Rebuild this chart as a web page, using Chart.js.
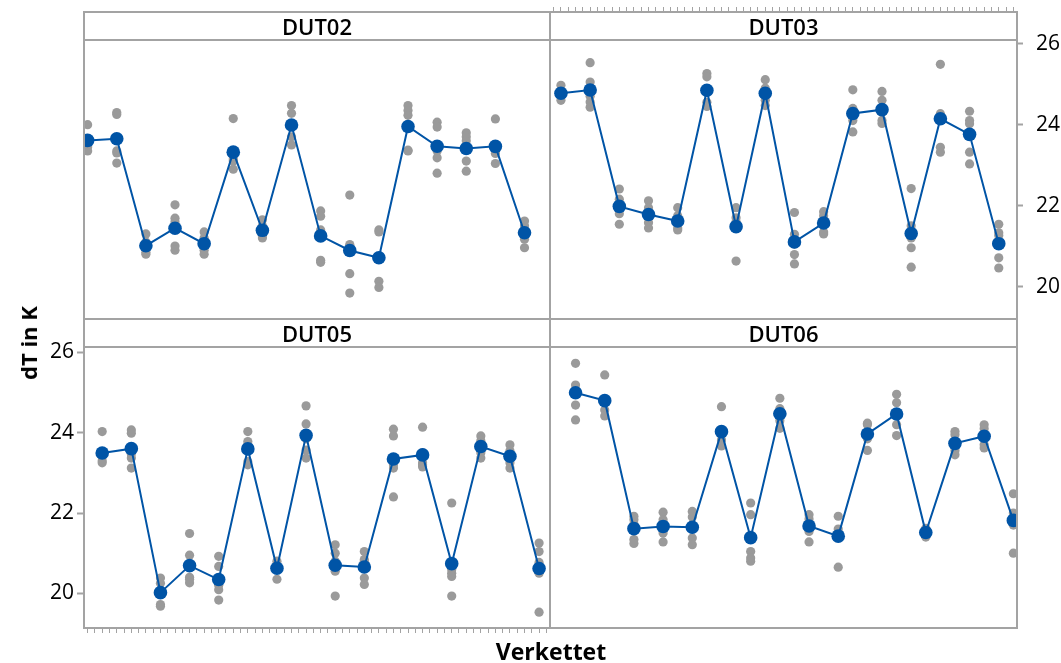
<!DOCTYPE html>
<html><head><meta charset="utf-8">
<script src="https://cdn.jsdelivr.net/npm/chart.js@4.4.1/dist/chart.umd.min.js"></script>
<style>
html,body{margin:0;padding:0;background:#fff;}
#stage{position:relative;width:1061px;height:663px;overflow:hidden;font-family:"Open Sans",sans-serif;background:#fff;}
canvas{position:absolute;z-index:1;}
.ln{position:absolute;background:#a3a3a3;z-index:3;}
.strip{position:absolute;height:28px;line-height:28px;text-align:center;font-size:22px;font-weight:600;color:#000;z-index:2;}
.title{position:absolute;font-weight:700;color:#000;z-index:2;white-space:nowrap;}
</style></head>
<body><div id="stage">
<canvas id="c02" width="466" height="279" style="left:84px;top:40px"></canvas>
<canvas id="c03" width="511" height="349" style="left:550px;top:0px"></canvas>
<canvas id="c05" width="550" height="346" style="left:0px;top:317px"></canvas>
<canvas id="c06" width="467" height="281" style="left:550px;top:347px"></canvas>
<div class="strip" style="left:84px;top:12px;width:466px">DUT02</div>
<div class="strip" style="left:550px;top:12px;width:467px">DUT03</div>
<div class="strip" style="left:84px;top:319px;width:466px">DUT05</div>
<div class="strip" style="left:550px;top:319px;width:467px">DUT06</div>
<div class="title" style="font-size:22px;left:28px;top:343px;transform:translate(-50%,-50%) rotate(-90deg)">dT in K</div>
<div class="title" style="font-size:23px;left:551px;top:651px;transform:translate(-50%,-50%)">Verkettet</div>
</div>
<script>
// ---- data ----
const panelNames = ["DUT02", "DUT03", "DUT05", "DUT06"];
const yTickValues = [20, 22, 24, 26];
const concatCategoryCount = 64;

const dut02 = [
  [24.0, 23.65, 23.6, 23.45, 23.35],
  [24.3, 24.25, 23.35, 23.3, 23.05],
  [21.3, 21.1, 21.0, 20.85, 20.8],
  [22.02, 21.69, 21.6, 21.0, 20.9],
  [21.35, 21.2, 21.05, 20.9, 20.8],
  [24.15, 23.3, 23.15, 23.1, 22.9],
  [21.65, 21.5, 21.35, 21.25, 21.2],
  [24.47, 24.28, 24.0, 23.7, 23.5],
  [21.87, 21.74, 21.4, 20.65, 20.6],
  [22.26, 21.04, 21.0, 20.32, 19.84],
  [21.4, 21.35, 20.7, 20.13, 19.98],
  [24.47, 24.35, 24.23, 23.37, 23.35],
  [24.06, 23.94, 23.35, 23.18, 22.8],
  [23.8, 23.7, 23.6, 23.1, 22.85],
  [24.14, 23.5, 23.35, 23.29, 23.04],
  [21.62, 21.5, 21.4, 21.17, 20.96]
];
const dut03 = [
  [24.97, 24.85, 24.75, 24.7, 24.6],
  [25.53, 25.05, 24.7, 24.56, 24.43],
  [22.41, 22.16, 22.0, 21.8, 21.54],
  [22.12, 21.95, 21.8, 21.58, 21.45],
  [21.95, 21.75, 21.55, 21.45, 21.4],
  [25.26, 25.18, 24.8, 24.55, 24.45],
  [21.95, 21.7, 21.6, 21.52, 20.63],
  [25.11, 24.9, 24.8, 24.6, 24.47],
  [21.83, 21.29, 21.05, 20.79, 20.56],
  [21.85, 21.75, 21.6, 21.35, 21.3],
  [24.86, 24.4, 24.2, 24.1, 23.82],
  [24.82, 24.6, 24.3, 24.1, 24.03],
  [22.42, 21.5, 21.2, 20.96, 20.48],
  [25.49, 24.27, 24.2, 23.44, 23.32],
  [24.33, 24.1, 24.02, 23.32, 23.03],
  [21.54, 21.33, 21.26, 20.71, 20.46]
];
const dut05 = [
  [24.03, 23.5, 23.4, 23.3, 23.25],
  [24.07, 23.99, 23.47, 23.37, 23.12],
  [20.38, 20.25, 20.05, 19.72, 19.68],
  [21.49, 20.95, 20.4, 20.35, 20.26],
  [20.92, 20.67, 20.2, 20.09, 19.83],
  [24.03, 23.78, 23.7, 23.28, 23.2],
  [20.8, 20.72, 20.65, 20.6, 20.35],
  [24.67, 24.22, 23.85, 23.57, 23.37],
  [21.21, 21.0, 20.8, 20.55, 19.93],
  [21.04, 20.84, 20.8, 20.38, 20.22],
  [24.09, 23.92, 23.2, 23.12, 22.4],
  [24.14, 23.5, 23.25, 23.2, 23.15],
  [22.25, 20.59, 20.5, 20.42, 19.93],
  [23.92, 23.8, 23.7, 23.5, 23.37],
  [23.7, 23.55, 23.45, 23.25, 23.12],
  [21.25, 21.04, 20.77, 20.5, 19.53]
];
const dut06 = [
  [25.73, 25.19, 25.05, 24.69, 24.32],
  [25.44, 24.8, 24.77, 24.57, 24.42],
  [21.92, 21.83, 21.72, 21.34, 21.24],
  [22.02, 21.83, 21.7, 21.5, 21.28],
  [22.04, 21.9, 21.7, 21.38, 21.21],
  [24.65, 24.05, 23.95, 23.82, 23.67],
  [22.25, 21.96, 21.04, 20.88, 20.8],
  [24.86, 24.6, 24.5, 24.3, 24.11],
  [21.96, 21.85, 21.75, 21.54, 21.28],
  [21.92, 21.6, 21.5, 21.45, 20.65],
  [24.24, 24.2, 24.0, 23.85, 23.56],
  [24.96, 24.75, 24.5, 24.2, 23.93],
  [21.62, 21.58, 21.52, 21.45, 21.4],
  [24.03, 23.95, 23.7, 23.55, 23.45],
  [24.2, 24.1, 23.95, 23.7, 23.62],
  [22.48, 22.0, 21.9, 21.7, 21.0]
];
const panelValues = [dut02, dut03, dut05, dut06];

// ---- styles ----
const FONT = '"Open Sans", sans-serif';
const GRAY_PT = '#9a9a9a';
const BLUE = '#0054a6';
const FRAME = '#a3a3a3';
const rowRanges = [[19.2, 26.09], [19.135, 26.137]];

const mean = a => a.reduce((s, v) => s + v, 0) / a.length;
const catTicks = Array.from({length: concatCategoryCount}, (_, i) => i);

function datasetsFor(p) {
  const vals = panelValues[p];
  const nP = panelNames.length;
  const indiv = [], means = [];
  vals.forEach((arr, g) => {
    const cx = nP * g + p;
    arr.forEach(v => indiv.push({x: cx, y: v}));
    means.push({x: cx, y: mean(arr)});
  });
  return [
    {data: means, showLine: true, borderColor: BLUE, borderWidth: 2, pointRadius: 6.8,
     pointBackgroundColor: BLUE, pointBorderWidth: 0, order: 0, clip: 0},
    {data: indiv, showLine: false, pointRadius: 4.6, pointBackgroundColor: GRAY_PT,
     pointBorderWidth: 0, order: 1, clip: 0}
  ];
}

function makeChart(id, p, row, padding, xAxis, yAxis) {
  const [yMin, yMax] = rowRanges[row];
  const x = Object.assign({type: 'linear', min: -0.5, max: concatCategoryCount - 0.5, display: false}, xAxis || {});
  const y = Object.assign({type: 'linear', min: yMin, max: yMax, display: false}, yAxis || {});
  return new Chart(document.getElementById(id), {
    type: 'scatter',
    data: {datasets: datasetsFor(p)},
    options: {
      responsive: false, animation: false, devicePixelRatio: 1, events: [],
      layout: {padding: padding || 0, autoPadding: false},
      plugins: {legend: {display: false}, tooltip: {enabled: false}, title: {display: false}},
      scales: {x, y}
    }
  });
}

const yLabelTicks = s => { s.ticks = yTickValues.map(v => ({value: v})); };
const xCatTicks = s => { s.ticks = catTicks.map(v => ({value: v})); };

makeChart('c02', 0, 0);
makeChart('c03', 1, 0, {top: 0, left: 0, right: 0, bottom: 30},
  {display: true, position: 'top', ticks: {display: false},
   grid: {drawOnChartArea: false, tickLength: 33, tickBorderDash: [5, 100], tickColor: FRAME, tickWidth: 1, color: FRAME},
   border: {display: false}, afterBuildTicks: xCatTicks, afterFit: s => { s.height = 40; }},
  {display: true, position: 'right',
   ticks: {font: {size: 21, family: FONT}, color: '#000', padding: 13},
   grid: {drawOnChartArea: false, tickLength: 6, tickColor: FRAME, tickWidth: 2, color: FRAME},
   border: {display: false}, afterBuildTicks: yLabelTicks, afterFit: s => { s.width = 44; }});
makeChart('c05', 2, 1, {top: 30, left: 0, right: 0, bottom: 0},
  {display: true, position: 'bottom', ticks: {display: false},
   grid: {drawOnChartArea: false, tickLength: 5, tickColor: FRAME, tickWidth: 1, color: FRAME},
   border: {display: false}, afterBuildTicks: xCatTicks, afterFit: s => { s.height = 35; }},
  {display: true, position: 'left',
   ticks: {font: {size: 21, family: FONT}, color: '#000', padding: 3},
   grid: {drawOnChartArea: false, tickLength: 7, tickColor: FRAME, tickWidth: 2, color: FRAME},
   border: {display: false}, afterBuildTicks: yLabelTicks, afterFit: s => { s.width = 84; }});
makeChart('c06', 3, 1);

// ---- panel frame lines ----
const stage = document.getElementById('stage');
function line(x, y, w, h) {
  const d = document.createElement('div');
  d.className = 'ln';
  d.style.left = x + 'px'; d.style.top = y + 'px'; d.style.width = w + 'px'; d.style.height = h + 'px';
  stage.appendChild(d);
}
[12, 40, 319, 347, 628].forEach(yy => line(83, yy - 1, 935, 2));
[84, 550, 1017].forEach(xx => line(xx - 1, 11, 2, 618));
</script>
</body></html>
